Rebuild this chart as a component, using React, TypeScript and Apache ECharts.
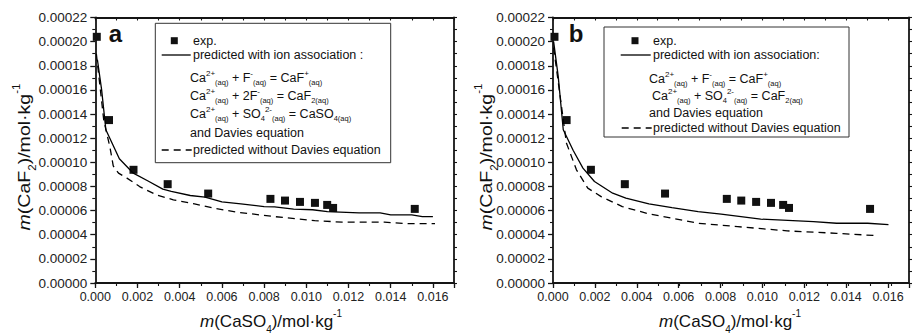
import React, { useEffect, useRef } from 'react';
import * as echarts from 'echarts';

// ---- data ----
const expX = [0.00007, 0.00065, 0.00181, 0.00343, 0.00535, 0.0083, 0.00899, 0.0097, 0.01041, 0.01099, 0.01127, 0.01514];
const expY = [0.000204, 0.000135, 0.0000938, 0.0000819, 0.0000741, 0.0000697, 0.0000683, 0.0000672, 0.0000664, 0.0000647, 0.0000622, 0.0000614];

const solidAX = [0.0001, 0.0003, 0.0005, 0.00114, 0.0018, 0.0025, 0.0032, 0.0036, 0.0045, 0.0052, 0.006, 0.0069, 0.008, 0.0085, 0.0094, 0.0103, 0.011, 0.0125, 0.0135, 0.014, 0.015, 0.0155, 0.016];
const solidAY = [0.000185, 0.00016, 0.000127, 0.000103, 0.000091, 0.0000845, 0.0000778, 0.000076, 0.0000725, 0.0000712, 0.0000672, 0.0000656, 0.0000633, 0.000063, 0.0000612, 0.0000607, 0.0000592, 0.0000581, 0.0000581, 0.0000564, 0.0000564, 0.000055, 0.000055];

const dashAX = [0.00005, 0.0004, 0.0007, 0.00085, 0.0011, 0.0015, 0.0021, 0.0029, 0.0037, 0.0047, 0.0056, 0.0067, 0.0085, 0.0104, 0.0117, 0.0137, 0.0147, 0.0161];
const dashAY = [0.00019, 0.000135, 0.000112, 0.000097, 0.000091, 0.0000869, 0.0000799, 0.000073, 0.0000689, 0.0000656, 0.000062, 0.0000587, 0.000055, 0.0000517, 0.0000504, 0.0000504, 0.0000492, 0.0000492];

const solidBX = [0.00003, 0.00025, 0.00049, 0.00096, 0.00143, 0.00198, 0.00285, 0.00348, 0.00458, 0.00568, 0.00693, 0.00803, 0.00992, 0.01244, 0.01354, 0.01503, 0.01602];
const solidBY = [0.0002, 0.000171, 0.000127, 0.00011, 0.0000952, 0.0000841, 0.0000744, 0.0000703, 0.0000656, 0.0000625, 0.0000592, 0.000057, 0.0000529, 0.0000509, 0.0000495, 0.0000495, 0.0000484];

const dashBX = [0.00003, 0.0003, 0.00064, 0.00112, 0.00166, 0.0023, 0.00331, 0.00458, 0.00568, 0.00693, 0.00882, 0.01118, 0.01354, 0.0155];
const dashBY = [0.000195, 0.00016, 0.000116, 0.0000938, 0.0000786, 0.0000716, 0.0000633, 0.0000573, 0.0000537, 0.0000495, 0.0000467, 0.0000432, 0.0000412, 0.0000392];

const xLabelStep = 0.002;
const yLabelStep = 0.00002;

const FONT = 'Liberation Sans, Arial, Helvetica, sans-serif';
const AXC = '#151515';

const zip = (xs: number[], ys: number[]) => xs.map((x, i) => [x, ys[i]]);

const rich = {
  m: { fontSize: 12.5, fontFamily: FONT, fill: '#111', verticalAlign: 'middle', lineHeight: 17 },
  sp: { fontSize: 8, fontFamily: FONT, fill: '#111', verticalAlign: 'top', lineHeight: 17 },
  sb: { fontSize: 7.5, fontFamily: FONT, fill: '#111', verticalAlign: 'bottom', lineHeight: 17 },
};

const titleRich = {
  i: { fontSize: 17, fontFamily: FONT, fontStyle: 'italic', fill: '#111', verticalAlign: 'middle', lineHeight: 26 },
  t: { fontSize: 17, fontFamily: FONT, fill: '#111', verticalAlign: 'middle', lineHeight: 26 },
  sb: { fontSize: 10, fontFamily: FONT, fill: '#111', verticalAlign: 'bottom', lineHeight: 26 },
  sp: { fontSize: 10, fontFamily: FONT, fill: '#111', verticalAlign: 'top', lineHeight: 26 },
};

function txt(x: number, y: number, text: string, extra: any = {}) {
  return {
    type: 'text', x, y, ...extra,
    style: { text, rich, fontSize: 12.5, fontFamily: FONT, fill: '#111', align: 'left', verticalAlign: 'middle' },
  };
}

function App() {
  const ref = useRef<HTMLDivElement>(null);
  useEffect(() => {
    document.body.style.margin = '0';
    const chart = echarts.init(ref.current!, null, { renderer: 'svg' });

    const gA = { left: 95.3, top: 17.5, width: 358.7, height: 265.5 };
    const gB = { left: 553, top: 17.5, width: 360.4, height: 265.5 };

    const grids = [gA, gA, gB, gB];

    const xAxes: any[] = [];
    const yAxes: any[] = [];
    [0, 2].forEach((gi) => {
      xAxes.push({
        gridIndex: gi, type: 'value', min: 0, max: 0.017, interval: xLabelStep, position: 'bottom',
        axisLine: { show: true, onZero: false, lineStyle: { color: AXC, width: 1.8 } },
        axisTick: { show: true, length: 5, lineStyle: { color: AXC, width: 1.3 } },
        axisLabel: {
          fontSize: 12.5, color: '#222', margin: 7, fontFamily: FONT,
          formatter: (v: number) => (Math.abs(v / xLabelStep - Math.round(v / xLabelStep)) < 1e-6 ? v.toFixed(3) : ''),
        },
        splitLine: { show: false },
      });
      xAxes.push({
        gridIndex: gi, type: 'value', min: 0, max: 0.017, interval: 0.001, position: 'top',
        axisLine: { show: true, onZero: false, lineStyle: { color: AXC, width: 1.8 } },
        axisTick: { show: true, inside: true, length: 3, lineStyle: { color: AXC, width: 1.1 } },
        axisLabel: { show: false }, splitLine: { show: false },
      });
      yAxes.push({
        gridIndex: gi, type: 'value', min: 0, max: 0.00022, interval: yLabelStep, position: 'left',
        axisLine: { show: true, onZero: false, lineStyle: { color: AXC, width: 1.8 } },
        axisTick: { show: true, length: 5, lineStyle: { color: AXC, width: 1.3 } },
        minorTick: { show: true, splitNumber: 2, length: 3, lineStyle: { color: AXC, width: 1.1 } },
        axisLabel: { fontSize: 13.5, color: '#222', margin: 8, fontFamily: FONT, formatter: (v: number) => v.toFixed(5) },
        splitLine: { show: false },
      });
      yAxes.push({
        gridIndex: gi, type: 'value', min: 0, max: 0.00022, interval: 0.00001, position: 'right',
        axisLine: { show: true, onZero: false, lineStyle: { color: AXC, width: 1.8 } },
        axisTick: { show: true, length: 3, lineStyle: { color: AXC, width: 1.1 } },
        axisLabel: { show: false }, splitLine: { show: false },
      });
      xAxes.push({
        gridIndex: gi + 1, type: 'value', min: 0, max: 0.017, interval: 0.001, position: 'bottom',
        axisLine: { show: false, onZero: false },
        axisTick: { show: true, length: 3, lineStyle: { color: AXC, width: 1.1 } },
        axisLabel: { show: false }, splitLine: { show: false },
      });
      yAxes.push({
        gridIndex: gi + 1, type: 'value', min: 0, max: 0.00022, show: false,
      });
    });

    const mkSeries = (xi: number, yi: number, sX: number[], sY: number[], dX: number[], dY: number[]) => [
      {
        type: 'line', xAxisIndex: xi, yAxisIndex: yi, data: zip(sX, sY), showSymbol: false, symbol: 'none',
        lineStyle: { color: '#000', width: 1.3 }, silent: true,
      },
      {
        type: 'line', xAxisIndex: xi, yAxisIndex: yi, data: zip(dX, dY), showSymbol: false, symbol: 'none',
        lineStyle: { color: '#000', width: 1.3, type: [7, 5] }, silent: true,
      },
      {
        type: 'scatter', xAxisIndex: xi, yAxisIndex: yi, data: zip(expX, expY), symbol: 'rect', symbolSize: 8,
        itemStyle: { color: '#111', opacity: 1 }, silent: true,
      },
    ];

    const legendA = [
      { type: 'rect', shape: { x: 155.3, y: 23.3, width: 235.4, height: 139.4 }, style: { fill: '#fff', stroke: '#333', lineWidth: 1 } },
      { type: 'rect', shape: { x: 170.8, y: 37.2, width: 7, height: 7 }, style: { fill: '#111' } },
      txt(193, 41, '{m|exp.}'),
      { type: 'line', shape: { x1: 161.7, y1: 55, x2: 190.7, y2: 55 }, style: { stroke: '#000', lineWidth: 1.3 } },
      txt(193, 55, '{m|predicted with ion association :}'),
      txt(190, 78, '{m|Ca}{sp|2+}{sb|(aq)}{m| + F}{sp|-}{sb|(aq)}{m| = CaF}{sp|+}{sb|(aq)}'),
      txt(190, 96, '{m|Ca}{sp|2+}{sb|(aq)}{m| + 2F}{sp|-}{sb|(aq)}{m| = CaF}{sb|2(aq)}'),
      txt(190, 114, '{m|Ca}{sp|2+}{sb|(aq)}{m| + SO}{sb|4}{sp|2-}{sb|(aq)}{m| = CaSO}{sb|4(aq)}'),
      txt(190, 133, '{m|and Davies equation}'),
      { type: 'line', shape: { x1: 161.7, y1: 150, x2: 191.7, y2: 150 }, style: { stroke: '#000', lineWidth: 1.3, lineDash: [7, 5] } },
      txt(193, 150, '{m|predicted without Davies equation}'),
    ];

    const legendB = [
      { type: 'rect', shape: { x: 604, y: 27, width: 245, height: 110 }, style: { fill: '#fff', stroke: '#333', lineWidth: 1 } },
      { type: 'rect', shape: { x: 631.5, y: 37.2, width: 7, height: 7 }, style: { fill: '#111' } },
      txt(653, 41, '{m|exp.}'),
      { type: 'line', shape: { x1: 620.7, y1: 55, x2: 650.7, y2: 55 }, style: { stroke: '#000', lineWidth: 1.3 } },
      txt(653, 55, '{m|predicted with ion association:}'),
      txt(649, 79, '{m|Ca}{sp|2+}{sb|(aq)}{m| + F}{sp|-}{sb|(aq)}{m| = CaF}{sp|+}{sb|(aq)}'),
      txt(652, 96, '{m|Ca}{sp|2+}{sb|(aq)}{m| + SO}{sb|4}{sp|2-}{sb|(aq)}{m| = CaF}{sb|2(aq)}'),
      txt(649, 113, '{m|and Davies equation}'),
      { type: 'line', shape: { x1: 621.7, y1: 128, x2: 651.7, y2: 128 }, style: { stroke: '#000', lineWidth: 1.3, lineDash: [7, 5] } },
      txt(653, 128, '{m|predicted without Davies equation}'),
    ];

    const titleStyle = (text: string) => ({ text, rich: titleRich, fontSize: 17, fontFamily: FONT, fill: '#111', align: 'center', verticalAlign: 'middle' });

    const titles = [
      { type: 'text', x: 115.5, y: 33, style: { text: 'a', fontSize: 24, fontWeight: 'bold', fontFamily: FONT, fill: '#111', align: 'center', verticalAlign: 'middle' } },
      { type: 'text', x: 576, y: 33, style: { text: 'b', fontSize: 24, fontWeight: 'bold', fontFamily: FONT, fill: '#111', align: 'center', verticalAlign: 'middle' } },
      { type: 'text', x: 271, y: 321, style: titleStyle('{i|m}{t|(CaSO}{sb|4}{t|)/mol·kg}{sp|-1}') },
      { type: 'text', x: 730, y: 321, style: titleStyle('{i|m}{t|(CaSO}{sb|4}{t|)/mol·kg}{sp|-1}') },
      { type: 'text', x: 24, y: 157, rotation: Math.PI / 2, scaleX: 1.15, style: titleStyle('{i|m}{t|(CaF}{sb|2}{t|)/mol·kg}{sp|-1}') },
      { type: 'text', x: 486, y: 157, rotation: Math.PI / 2, scaleX: 1.15, style: titleStyle('{i|m}{t|(CaF}{sb|2}{t|)/mol·kg}{sp|-1}') },
    ];

    chart.setOption({
      animation: false,
      grid: grids,
      xAxis: xAxes,
      yAxis: yAxes,
      series: [
        ...mkSeries(0, 0, solidAX, solidAY, dashAX, dashAY),
        ...mkSeries(3, 3, solidBX, solidBY, dashBX, dashBY),
      ],
      graphic: [...legendA, ...legendB, ...titles],
    });

    return () => chart.dispose();
  }, []);
  return <div ref={ref} style={{ width: 912, height: 335 }} />;
}

export default App;
